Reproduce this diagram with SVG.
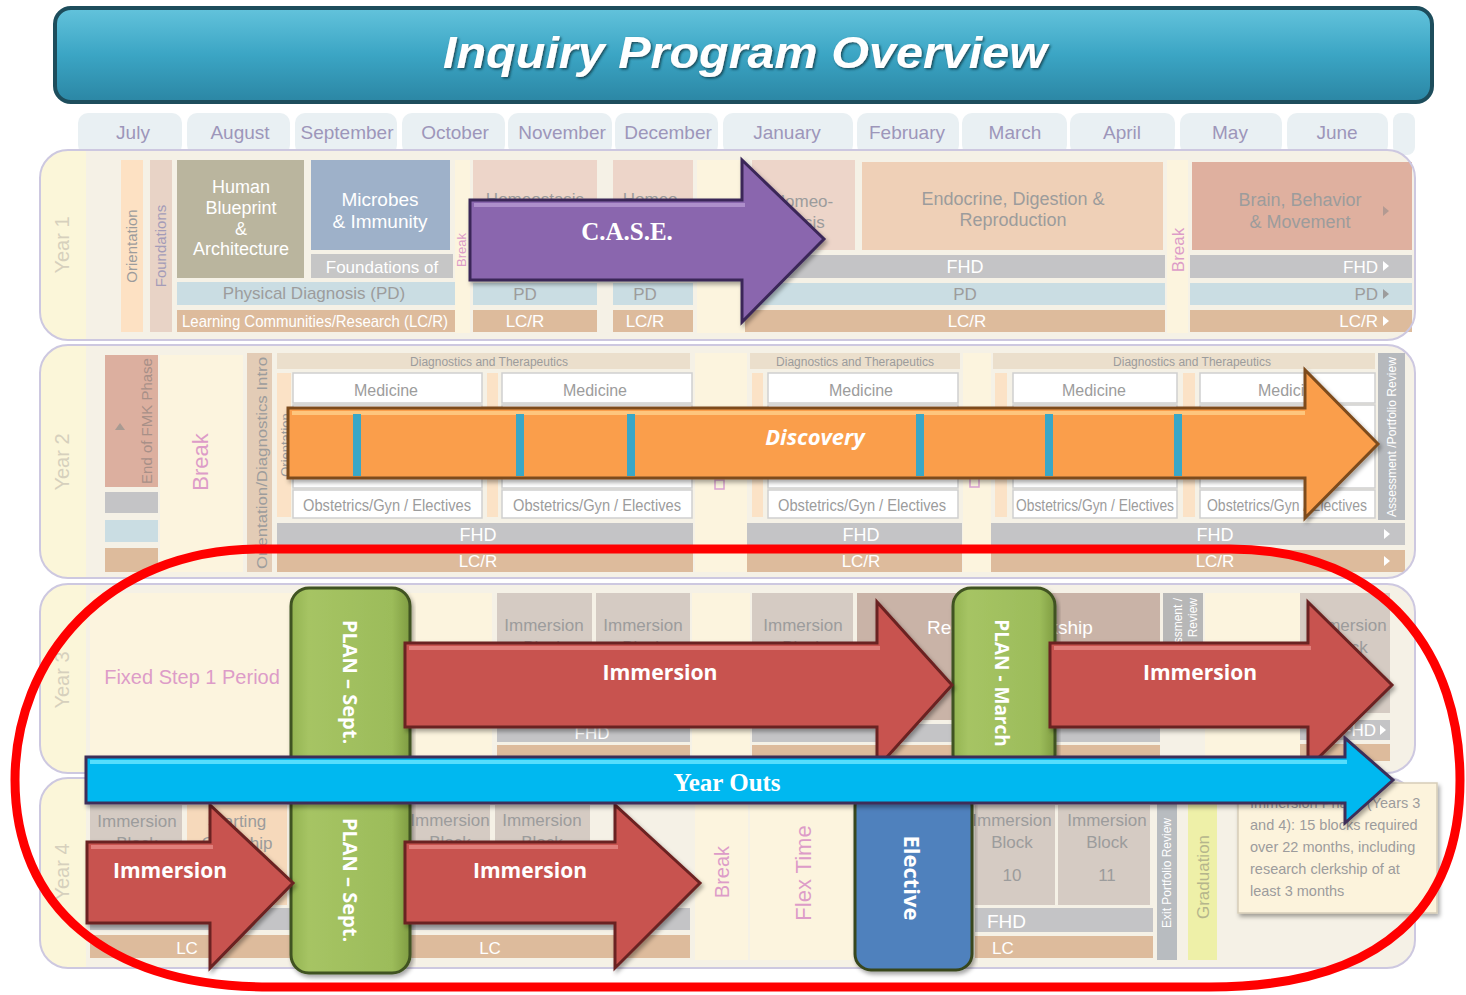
<svg xmlns="http://www.w3.org/2000/svg" width="1466" height="995" viewBox="0 0 1466 995">
<defs>
<style>
text{font-family:"Liberation Sans",Arial,sans-serif}
.mo{font-size:19px;fill:#9d96ba;text-anchor:middle}
.g{fill:#9c9c9c}
.w{fill:#ffffff}
.pk{fill:#dd9cc8}
.c{text-anchor:middle}
.e{text-anchor:end}
.yl{font-size:20px;fill:#d6d0bd;text-anchor:middle}
.pb{fill:none;stroke:#cdc8e0;stroke-width:2}
.pf{fill:#f5f1e6}
.ls{fill:#fbf6d9}
.gr{fill:#c4c4c6}
.pd{fill:#cadde3}
.lc{fill:#ddbb9c}
.cr{fill:#fcf4de}
.ib{fill:#d5cbc3}
.pe{fill:#fbe2c6}
.wb{fill:#fff;stroke:#cfcfcf;stroke-width:1.5}
.hd{fill:#ebdfcc}
.tab{fill:#e9f0f3}
.big{font-family:"Open Sans","Liberation Sans",sans-serif;font-weight:bold;fill:#fff;text-anchor:middle}
.ser{font-family:"Liberation Serif","Times New Roman",serif;font-weight:bold;fill:#fff;text-anchor:middle}
.red{fill:#c8534f;stroke:#6b2220;stroke-width:3}
.plan{fill:url(#gg);stroke:#3f5220;stroke-width:3}
</style>
<linearGradient id="tg" x1="0" y1="0" x2="0" y2="1"><stop offset="0" stop-color="#63c3dc"/><stop offset="0.5" stop-color="#3ba5c4"/><stop offset="1" stop-color="#2b86a4"/></linearGradient>
<linearGradient id="gg" x1="0" y1="0" x2="1" y2="0"><stop offset="0" stop-color="#93b350"/><stop offset="0.15" stop-color="#a6c464"/><stop offset="0.85" stop-color="#9cbc5a"/><stop offset="1" stop-color="#7f9c42"/></linearGradient>
<filter id="sh" x="-5%" y="-10%" width="110%" height="130%"><feDropShadow dx="2" dy="3" stdDeviation="2" flood-color="#000" flood-opacity="0.35"/></filter>
<filter id="ts" x="-5%" y="-20%" width="110%" height="140%"><feDropShadow dx="1.5" dy="1.5" stdDeviation="1" flood-color="#0d3440" flood-opacity="0.8"/></filter>
</defs>
<rect width="1466" height="995" fill="#ffffff"/>

<g id="title">
<rect x="55" y="8" width="1377" height="94" rx="16" fill="url(#tg)" stroke="#1d4d5c" stroke-width="4"/>
<text x="745" y="68" font-family="'Open Sans','Liberation Sans',sans-serif" font-style="italic" font-weight="bold" font-size="44" fill="#ffffff" text-anchor="middle" textLength="604" lengthAdjust="spacingAndGlyphs" filter="url(#ts)">Inquiry Program Overview</text>
</g>

<g id="months">
<rect class="tab" x="78" y="113" width="104" height="42" rx="10"/>
<rect class="tab" x="187" y="113" width="103" height="42" rx="10"/>
<rect class="tab" x="295" y="113" width="102" height="42" rx="10"/>
<rect class="tab" x="402" y="113" width="103" height="42" rx="10"/>
<rect class="tab" x="508" y="113" width="104" height="42" rx="10"/>
<rect class="tab" x="615" y="113" width="103" height="42" rx="10"/>
<rect class="tab" x="723" y="113" width="130" height="42" rx="10"/>
<rect class="tab" x="857" y="113" width="102" height="42" rx="10"/>
<rect class="tab" x="962" y="113" width="105" height="42" rx="10"/>
<rect class="tab" x="1070" y="113" width="105" height="42" rx="10"/>
<rect class="tab" x="1180" y="113" width="102" height="42" rx="10"/>
<rect class="tab" x="1287" y="113" width="101" height="42" rx="10"/>
<rect class="tab" x="1393" y="113" width="22" height="42" rx="8"/>
<text class="mo" x="133" y="139">July</text>
<text class="mo" x="240" y="139">August</text>
<text class="mo" x="347" y="139">September</text>
<text class="mo" x="455" y="139">October</text>
<text class="mo" x="562" y="139">November</text>
<text class="mo" x="668" y="139">December</text>
<text class="mo" x="787" y="139">January</text>
<text class="mo" x="907" y="139">February</text>
<text class="mo" x="1015" y="139">March</text>
<text class="mo" x="1122" y="139">April</text>
<text class="mo" x="1230" y="139">May</text>
<text class="mo" x="1337" y="139">June</text>
</g>

<g id="year1">
<rect class="pf" x="40" y="150" width="1375" height="190" rx="28"/>
<path class="ls" d="M68,150 H86 V340 H68 A28,28 0 0 1 40,312 V178 A28,28 0 0 1 68,150 Z"/>
<text class="yl" transform="translate(62,245) rotate(-90)" y="7">Year 1</text>
<rect x="121" y="160" width="22" height="172" fill="#fde1c3"/>
<text class="g c" font-size="15" transform="translate(132,246) rotate(-90)" y="5">Orientation</text>
<rect x="150" y="160" width="22" height="172" fill="#e8d3c6"/>
<text class="c" font-size="15" fill="#a49cb8" transform="translate(161,246) rotate(-90)" y="5">Foundations</text>
<rect x="177" y="160" width="127" height="118" fill="#bab59e"/>
<text class="w c" font-size="18" x="241" y="193">Human</text>
<text class="w c" font-size="18" x="241" y="214">Blueprint</text>
<text class="w c" font-size="18" x="241" y="235">&amp;</text>
<text class="w c" font-size="18" x="241" y="255">Architecture</text>
<rect x="311" y="160" width="139" height="90" fill="#9eb1c9"/>
<text class="w c" font-size="19" x="380" y="206">Microbes</text>
<text class="w c" font-size="19" x="380" y="228">&amp; Immunity</text>
<rect x="311" y="254" width="142" height="24" fill="#c6c6c6"/>
<text class="w c" font-size="17" x="382" y="273">Foundations of</text>
<rect class="pd" x="177" y="282" width="278" height="23"/>
<text class="g c" font-size="17" x="314" y="299">Physical Diagnosis (PD)</text>
<rect class="lc" x="177" y="310" width="278" height="22"/>
<text class="w c" font-size="17" x="315" y="327" textLength="266" lengthAdjust="spacingAndGlyphs">Learning Communities/Research (LC/R)</text>
<rect class="cr" x="455" y="160" width="15" height="173"/>
<text class="pk c" font-size="13" transform="translate(462,250) rotate(-90)" y="4">Break</text>
<rect x="473" y="160" width="124" height="90" fill="#edd5c9"/>
<text class="g c" font-size="17" x="535" y="205">Homeostasis</text>
<rect class="pd" x="473" y="283" width="124" height="22"/>
<text class="g c" font-size="17" x="525" y="300">PD</text>
<rect class="lc" x="473" y="310" width="124" height="22"/>
<text class="w c" font-size="17" x="525" y="327">LC/R</text>
<rect x="613" y="160" width="80" height="90" fill="#edd5c9"/>
<text class="g c" font-size="17" x="653" y="205">Homeo-</text>
<rect class="pd" x="613" y="283" width="80" height="22"/>
<text class="g c" font-size="17" x="645" y="300">PD</text>
<rect class="lc" x="613" y="310" width="80" height="22"/>
<text class="w c" font-size="17" x="645" y="327">LC/R</text>
<rect class="cr" x="697" y="160" width="48" height="173"/>
<rect x="752" y="160" width="103" height="90" fill="#edd5c9"/>
<text class="g c" font-size="17" x="803" y="207">Homeo-</text>
<text class="g c" font-size="17" x="803" y="228">stasis</text>
<rect x="862" y="162" width="301" height="88" fill="#efd0b7"/>
<text class="g c" font-size="18" x="1013" y="205">Endocrine, Digestion &amp;</text>
<text class="g c" font-size="18" x="1013" y="226">Reproduction</text>
<rect class="gr" x="745" y="255" width="420" height="23"/>
<text class="w c" font-size="18" x="965" y="273">FHD</text>
<rect class="pd" x="745" y="283" width="420" height="22"/>
<text class="g c" font-size="17" x="965" y="300">PD</text>
<rect class="lc" x="745" y="310" width="420" height="22"/>
<text class="w c" font-size="17" x="967" y="327">LC/R</text>
<rect class="cr" x="1167" y="160" width="21" height="173"/>
<text class="pk c" font-size="17" transform="translate(1178,250) rotate(-90)" y="6">Break</text>
<rect x="1192" y="162" width="220" height="88" fill="#dfb09f"/>
<text class="g c" font-size="18" x="1300" y="206">Brain, Behavior</text>
<text class="g c" font-size="18" x="1300" y="228">&amp; Movement</text>
<polygon points="1383,206 1389,211 1383,216" fill="#b39a92"/>
<rect class="gr" x="1190" y="255" width="222" height="23"/>
<text class="w e" font-size="17" x="1378" y="273">FHD</text>
<polygon points="1383,261 1389,266 1383,271" fill="#fff"/>
<rect class="pd" x="1190" y="283" width="222" height="22"/>
<text class="g e" font-size="17" x="1378" y="300">PD</text>
<polygon points="1383,289 1389,294 1383,299" fill="#9c9c9c"/>
<rect class="lc" x="1190" y="310" width="222" height="22"/>
<text class="w e" font-size="17" x="1378" y="327">LC/R</text>
<polygon points="1383,316 1389,321 1383,326" fill="#fff"/>
<rect class="pb" x="40" y="150" width="1375" height="190" rx="28"/>
</g>

<g id="year2">
<rect class="pf" x="40" y="345" width="1375" height="233" rx="28"/>
<path class="ls" d="M68,345 H86 V578 H68 A28,28 0 0 1 40,550 V373 A28,28 0 0 1 68,345 Z"/>
<text class="yl" transform="translate(62,462) rotate(-90)" y="7">Year 2</text>
<rect x="105" y="355" width="53" height="132" fill="#dcaf9f"/>
<text class="c" font-size="15" fill="#a89088" transform="translate(147,421) rotate(-90)" y="5">End of FMK Phase</text>
<polygon points="115,430 120,423 125,430" fill="#a89a92"/>
<rect class="gr" x="105" y="492" width="53" height="21"/>
<rect class="pd" x="105" y="520" width="53" height="22"/>
<rect class="lc" x="105" y="548" width="53" height="24"/>
<rect class="cr" x="160" y="355" width="83" height="217"/>
<text class="pk c" font-size="22" transform="translate(200,462) rotate(-90)" y="8">Break</text>
<rect x="247" y="353" width="25" height="219" fill="#e3ccb6"/>
<text class="g c" font-size="14" transform="translate(262,463) rotate(-90)" y="5" textLength="212" lengthAdjust="spacingAndGlyphs">Orientation/Diagnostics Intro</text>
<rect class="hd" x="277" y="353" width="413" height="16"/>
<text class="g c" font-size="12" x="489" y="366">Diagnostics and Therapeutics</text>
<rect class="pe" x="277" y="373" width="14" height="144"/>
<text class="g c" font-size="13" transform="translate(285,445) rotate(-90)" y="5">Orientation</text>
<rect class="wb" x="293" y="373" width="189" height="30"/>
<text class="g c" font-size="16" x="386" y="396">Medicine</text>
<rect class="wb" x="293" y="405" width="189" height="83"/>
<rect class="wb" x="293" y="490" width="189" height="28"/>
<text class="g c" font-size="16" x="387" y="511" textLength="168" lengthAdjust="spacingAndGlyphs">Obstetrics/Gyn / Electives</text>
<rect class="pe" x="487" y="373" width="11" height="144"/>
<rect class="wb" x="502" y="373" width="190" height="30"/>
<text class="g c" font-size="16" x="595" y="396">Medicine</text>
<rect class="wb" x="502" y="405" width="190" height="83"/>
<rect class="wb" x="502" y="490" width="190" height="28"/>
<text class="g c" font-size="16" x="597" y="511" textLength="168" lengthAdjust="spacingAndGlyphs">Obstetrics/Gyn / Electives</text>
<rect class="gr" x="277" y="523" width="416" height="22"/>
<text class="w c" font-size="18" x="478" y="541">FHD</text>
<rect class="lc" x="277" y="550" width="416" height="22"/>
<text class="w c" font-size="17" x="478" y="567">LC/R</text>
<rect class="cr" x="695" y="353" width="52" height="219"/>
<rect x="715" y="480" width="9" height="9" fill="none" stroke="#d9a0d0" stroke-width="1.5"/>
<rect class="hd" x="750" y="353" width="210" height="16"/>
<text class="g c" font-size="12" x="855" y="366">Diagnostics and Therapeutics</text>
<rect class="pe" x="752" y="373" width="11" height="144"/>
<rect class="wb" x="768" y="373" width="190" height="30"/>
<text class="g c" font-size="16" x="861" y="396">Medicine</text>
<rect class="wb" x="768" y="405" width="190" height="83"/>
<rect class="wb" x="768" y="490" width="190" height="28"/>
<text class="g c" font-size="16" x="862" y="511" textLength="168" lengthAdjust="spacingAndGlyphs">Obstetrics/Gyn / Electives</text>
<rect class="gr" x="747" y="523" width="215" height="22"/>
<text class="w c" font-size="18" x="861" y="541">FHD</text>
<rect class="lc" x="747" y="550" width="215" height="22"/>
<text class="w c" font-size="17" x="861" y="567">LC/R</text>
<rect class="cr" x="963" y="353" width="28" height="219"/>
<rect x="970" y="478" width="9" height="9" fill="none" stroke="#d9a0d0" stroke-width="1.5"/>
<rect class="hd" x="993" y="353" width="382" height="16"/>
<text class="g c" font-size="12" x="1192" y="366">Diagnostics and Therapeutics</text>
<rect class="pe" x="995" y="373" width="12" height="144"/>
<rect class="wb" x="1013" y="373" width="164" height="30"/>
<text class="g c" font-size="16" x="1094" y="396">Medicine</text>
<rect class="wb" x="1013" y="405" width="164" height="83"/>
<rect class="wb" x="1013" y="490" width="164" height="28"/>
<text class="g c" font-size="16" x="1095" y="511" textLength="158" lengthAdjust="spacingAndGlyphs">Obstetrics/Gyn / Electives</text>
<rect class="pe" x="1183" y="373" width="12" height="144"/>
<rect class="wb" x="1200" y="373" width="175" height="30"/>
<text class="g c" font-size="16" x="1290" y="396">Medicine</text>
<rect class="wb" x="1200" y="405" width="175" height="83"/>
<rect class="wb" x="1200" y="490" width="175" height="28"/>
<text class="g c" font-size="16" x="1287" y="511" textLength="160" lengthAdjust="spacingAndGlyphs">Obstetrics/Gyn / Electives</text>
<rect x="1378" y="353" width="27" height="167" fill="#b6b9bd"/>
<text class="w c" font-size="12" transform="translate(1392,437) rotate(-90)" y="4" textLength="160" lengthAdjust="spacingAndGlyphs">Assessment /Portfolio Review</text>
<rect class="gr" x="991" y="523" width="414" height="22"/>
<text class="w c" font-size="18" x="1215" y="541">FHD</text>
<polygon points="1384,529 1390,534 1384,539" fill="#fff"/>
<rect class="lc" x="991" y="550" width="414" height="22"/>
<text class="w c" font-size="17" x="1215" y="567">LC/R</text>
<polygon points="1384,556 1390,561 1384,566" fill="#fff"/>
<rect class="pb" x="40" y="345" width="1375" height="233" rx="28"/>
</g>

<g id="year3">
<rect class="pf" x="40" y="584" width="1375" height="189" rx="28"/>
<path class="ls" d="M68,584 H86 V773 H68 A28,28 0 0 1 40,745 V612 A28,28 0 0 1 68,584 Z"/>
<text class="yl" transform="translate(62,680) rotate(-90)" y="7">Year 3</text>
<rect class="cr" x="90" y="593" width="402" height="172"/>
<text class="pk c" font-size="20" x="192" y="684" fill="#e2a6c6">Fixed Step 1 Period</text>
<rect class="ib" x="497" y="593" width="95" height="127"/>
<text class="g c" font-size="17" x="544" y="631">Immersion</text>
<text class="g c" font-size="17" x="544" y="653">Block</text>
<rect class="ib" x="596" y="593" width="94" height="127"/>
<text class="g c" font-size="17" x="643" y="631">Immersion</text>
<text class="g c" font-size="17" x="643" y="653">Block</text>
<rect class="gr" x="497" y="724" width="193" height="18"/>
<text class="w c" font-size="17" x="592" y="739">FHD</text>
<rect class="lc" x="497" y="745" width="193" height="15"/>
<rect class="cr" x="692" y="593" width="58" height="172"/>
<rect class="ib" x="752" y="593" width="101" height="127"/>
<text class="g c" font-size="17" x="803" y="631">Immersion</text>
<text class="g c" font-size="17" x="803" y="653">Block</text>
<rect x="857" y="593" width="303" height="127" fill="#c9b3a7"/>
<text class="w" font-size="19" x="927" y="634">Research Clerkship</text>
<rect class="gr" x="752" y="724" width="408" height="18"/>
<rect class="lc" x="752" y="745" width="408" height="15"/>
<rect x="1163" y="593" width="40" height="68" fill="#b7b7b7"/>
<text class="w e" font-size="12" transform="translate(1178,598) rotate(-90)" y="4">Assessment /</text>
<text class="w e" font-size="12" transform="translate(1193,598) rotate(-90)" y="4">Review</text>
<rect class="cr" x="1205" y="593" width="95" height="172"/>
<rect class="ib" x="1300" y="593" width="90" height="120"/>
<text class="g c" font-size="17" x="1347" y="631">Immersion</text>
<text class="g c" font-size="17" x="1347" y="653">Block</text>
<rect class="gr" x="1300" y="720" width="90" height="20"/>
<text class="w e" font-size="17" x="1376" y="736">FHD</text>
<polygon points="1380,725 1386,730 1380,735" fill="#fff"/>
<rect class="lc" x="1300" y="744" width="90" height="17"/>
<rect class="pb" x="40" y="584" width="1375" height="189" rx="28"/>
</g>

<g id="year4">
<rect class="pf" x="40" y="778" width="1375" height="190" rx="28"/>
<path class="ls" d="M68,778 H86 V968 H68 A28,28 0 0 1 40,940 V806 A28,28 0 0 1 68,778 Z"/>
<text class="yl" transform="translate(62,872) rotate(-90)" y="7">Year 4</text>
<rect class="ib" x="90" y="805" width="92" height="100"/>
<text class="g c" font-size="17" x="137" y="827">Immersion</text>
<text class="g c" font-size="17" x="137" y="849">Block</text>
<rect x="187" y="805" width="100" height="100" fill="#f6d9bb"/>
<text class="g c" font-size="17" x="237" y="827">Starting</text>
<text class="g c" font-size="17" x="237" y="849">Clerkship</text>
<rect class="gr" x="90" y="908" width="200" height="22"/>
<rect class="lc" x="90" y="935" width="200" height="23"/>
<text class="w c" font-size="17" x="187" y="954">LC</text>
<rect class="ib" x="410" y="805" width="80" height="55"/>
<text class="g c" font-size="17" x="450" y="826">Immersion</text>
<text class="g c" font-size="17" x="450" y="848">Block</text>
<rect class="ib" x="495" y="805" width="95" height="55"/>
<text class="g c" font-size="17" x="542" y="826">Immersion</text>
<text class="g c" font-size="17" x="542" y="848">Block</text>
<rect class="gr" x="410" y="908" width="280" height="22"/>
<rect class="lc" x="410" y="935" width="280" height="23"/>
<text class="w c" font-size="17" x="490" y="954">LC</text>
<rect class="cr" x="695" y="800" width="53" height="160"/>
<text class="pk c" font-size="20" transform="translate(722,872) rotate(-90)" y="7">Break</text>
<rect class="cr" x="750" y="800" width="103" height="160"/>
<text class="pk c" font-size="22" transform="translate(803,873) rotate(-90)" y="8">Flex Time</text>
<rect class="ib" x="975" y="805" width="80" height="100"/>
<text class="g c" font-size="17" x="1012" y="826">Immersion</text>
<text class="g c" font-size="17" x="1012" y="848">Block</text>
<text class="g c" font-size="17" x="1012" y="881">10</text>
<rect class="ib" x="1058" y="805" width="92" height="100"/>
<text class="g c" font-size="17" x="1107" y="826">Immersion</text>
<text class="g c" font-size="17" x="1107" y="848">Block</text>
<text class="g c" font-size="17" x="1107" y="881">11</text>
<rect class="gr" x="975" y="908" width="178" height="24"/>
<text class="w" font-size="19" x="987" y="928">FHD</text>
<rect class="lc" x="975" y="936" width="178" height="22"/>
<text class="w" font-size="17" x="992" y="954">LC</text>
<rect x="1157" y="800" width="20" height="160" fill="#b8bcc0"/>
<text class="w c" font-size="12" transform="translate(1167,873) rotate(-90)" y="4">Exit Portfolio Review</text>
<rect x="1188" y="800" width="29" height="160" fill="#eef0a8"/>
<text class="c" font-size="17" fill="#b5b58c" transform="translate(1203,877) rotate(-90)" y="6">Graduation</text>
<rect class="pb" x="40" y="778" width="1375" height="190" rx="28"/>
</g>

<g id="case">
<path d="M470,200 H742 V160 L824,239 L742,322 V280 H470 Z" fill="#8a66ae" stroke="#3b2858" stroke-width="3" filter="url(#sh)"/>
<path d="M474,205 H745" stroke="#b79ad3" stroke-width="4" opacity="0.8"/>
<text class="ser" font-size="25" x="627" y="240">C.A.S.E.</text>
</g>

<g id="discovery">
<path d="M288,408 H1305 V370 L1378,444 L1305,518 V478 H288 Z" fill="#fa9e4c" stroke="#7d4b1e" stroke-width="3" filter="url(#sh)"/>
<path d="M292,413 H1305" stroke="#ffd08a" stroke-width="4" opacity="0.8"/>
<g fill="#3aa7c6">
<rect x="353" y="414" width="8" height="62"/>
<rect x="516" y="414" width="8" height="62"/>
<rect x="627" y="414" width="8" height="62"/>
<rect x="916" y="414" width="8" height="62"/>
<rect x="1045" y="414" width="8" height="62"/>
<rect x="1174" y="414" width="8" height="62"/>
</g>
<text class="big" font-size="22" font-style="italic" x="815" y="445">Discovery</text>
</g>

<g id="tooltip">
<rect x="1238" y="783" width="199" height="130" fill="#fcf3dc" stroke="#d6cdb8" stroke-width="1.5" filter="url(#sh)"/>
<text class="g" font-size="14.5" x="1250" y="808">Immersion Phase (Years 3</text>
<text class="g" font-size="14.5" x="1250" y="830">and 4): 15 blocks required</text>
<text class="g" font-size="14.5" x="1250" y="852">over 22 months, including</text>
<text class="g" font-size="14.5" x="1250" y="874">research clerkship of at</text>
<text class="g" font-size="14.5" x="1250" y="896">least 3 months</text>
</g>

<g id="plan-sept">
<rect class="plan" x="291" y="588" width="119" height="385" rx="18" filter="url(#sh)"/>
<text class="big" font-size="20" transform="translate(350,682) rotate(90)" y="7">PLAN – Sept.</text>
<text class="big" font-size="20" transform="translate(350,880) rotate(90)" y="7">PLAN – Sept.</text>
</g>

<g id="plan-march">
<rect class="plan" x="953" y="588" width="102" height="185" rx="18" filter="url(#sh)"/>
<text class="big" font-size="19" transform="translate(1002,683) rotate(90)" y="7">PLAN - March</text>
</g>

<g id="elective">
<rect x="855" y="790" width="117" height="180" rx="16" fill="#4f81bd" stroke="#38461f" stroke-width="3" filter="url(#sh)"/>
<text class="big" font-size="22" transform="translate(912,878) rotate(90)" y="8">Elective</text>
</g>

<g id="immersion-y3a">
<path class="red" d="M405,643 H877 V602 L952,685 L877,768 V727 H405 Z" filter="url(#sh)"/>
<path d="M409,648 H880" stroke="#e88a86" stroke-width="4" opacity="0.8"/>
<text class="big" font-size="22" x="660" y="680" textLength="115" lengthAdjust="spacingAndGlyphs">Immersion</text>
</g>

<g id="immersion-y3b">
<path class="red" d="M1050,643 H1308 V602 L1392,685 L1308,768 V727 H1050 Z" filter="url(#sh)"/>
<path d="M1054,648 H1311" stroke="#e88a86" stroke-width="4" opacity="0.8"/>
<text class="big" font-size="22" x="1200" y="680" textLength="114" lengthAdjust="spacingAndGlyphs">Immersion</text>
</g>

<g id="immersion-y4a">
<path class="red" d="M87,842 H210 V805 L293,883 L210,968 V923 H87 Z" filter="url(#sh)"/>
<path d="M91,847 H213" stroke="#e88a86" stroke-width="4" opacity="0.8"/>
<text class="big" font-size="22" x="170" y="878" textLength="114" lengthAdjust="spacingAndGlyphs">Immersion</text>
</g>

<g id="immersion-y4b">
<path class="red" d="M405,842 H615 V805 L700,883 L615,968 V923 H405 Z" filter="url(#sh)"/>
<path d="M409,847 H618" stroke="#e88a86" stroke-width="4" opacity="0.8"/>
<text class="big" font-size="22" x="530" y="878" textLength="114" lengthAdjust="spacingAndGlyphs">Immersion</text>
</g>

<g id="year-outs">
<path d="M86,757 H1345 V738 L1393,780 L1345,823 V803 H86 Z" fill="#00b8f0" stroke="#3d2f58" stroke-width="3" filter="url(#sh)"/>
<path d="M90,762 H1347" stroke="#5fe3ff" stroke-width="4" opacity="0.9"/>
<text class="ser" font-size="25" x="727" y="791">Year Outs</text>
</g>

<g id="highlight">
<path d="M260,549 H1230 C1390,549 1460,660 1460,780 C1460,905 1385,987 1210,987 H270 C105,987 15,905 15,780 C15,660 105,549 260,549 Z" fill="none" stroke="#ff0000" stroke-width="9"/>
</g>
</svg>
